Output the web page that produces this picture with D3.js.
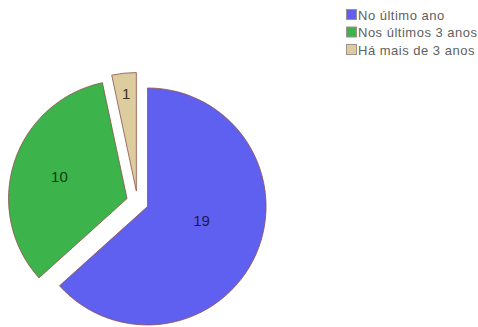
<!DOCTYPE html>
<html>
<head>
<meta charset="utf-8">
<script src="https://cdn.jsdelivr.net/npm/d3@7"></script>
<style>
  html, body { margin: 0; padding: 0; background: #fff; }
  svg { display: block; }
</style>
</head>
<body>
<svg id="chart" width="478" height="327"></svg>
<script>
// Respondents by time since event
const categories = ["No último ano", "Nos últimos 3 anos", "Há mais de 3 anos"];
const values = [19, 10, 1];
const fills = ["#6060f0", "#3db44b", "#dccc9e"];
const labelColors = ["#1a1a55", "#0d3d12", "#3a3320"];

const svg = d3.select("#chart");

const cx = 137.5, cy = 202, radius = 118.5, explode = 11;

const pie = d3.pie().sort(null).value(d => d)(values);
const arc = d3.arc().innerRadius(0).outerRadius(radius);

const g = svg.append("g").attr("transform", `translate(${cx},${cy})`);

const slices = g.selectAll("g.slice")
  .data(pie)
  .join("g")
  .attr("class", "slice")
  .attr("transform", d => {
    const mid = (d.startAngle + d.endAngle) / 2;
    return `translate(${explode * Math.sin(mid)},${-explode * Math.cos(mid)})`;
  });

slices.append("path")
  .attr("d", arc)
  .attr("fill", (d, i) => fills[i])
  .attr("stroke", "#8c5048")
  .attr("stroke-width", 0.8)
  .attr("stroke-linejoin", "round");

// Label placement: narrow slices push the label toward the rim,
// the dominant slice pulls it a little toward its start edge.
function labelPos(d) {
  const span = d.endAngle - d.startAngle;
  let a = (d.startAngle + d.endAngle) / 2;
  let frac = 0.6;
  if (span < 0.5) frac = 0.83;
  else if (span > Math.PI) { frac = 0.47; a -= 0.17; }
  const r = radius * frac;
  return [r * Math.sin(a), -r * Math.cos(a)];
}

slices.append("text")
  .attr("transform", d => `translate(${labelPos(d)})`)
  .attr("text-anchor", "middle")
  .attr("dy", "0.36em")
  .attr("font-family", "Arial, 'Liberation Sans', sans-serif")
  .attr("font-size", 15)
  .attr("fill", (d, i) => labelColors[i])
  .text(d => d.data);

// Legend
const legend = svg.append("g").attr("transform", "translate(346,9)");
const rows = legend.selectAll("g")
  .data(categories)
  .join("g")
  .attr("transform", (d, i) => `translate(0,${i * 17.5})`);

rows.append("rect")
  .attr("x", 0.5).attr("y", 0.5)
  .attr("width", 10).attr("height", 10)
  .attr("fill", (d, i) => fills[i])
  .attr("stroke", "#a09090")
  .attr("stroke-width", 1);

rows.append("text")
  .attr("x", 12)
  .attr("y", 6)
  .attr("dy", "0.35em")
  .attr("font-family", "Arial, 'Liberation Sans', sans-serif")
  .attr("font-size", 13)
  .attr("letter-spacing", 0.5)
  .attr("fill", "#606060")
  .text(d => d);
</script>
</body>
</html>
